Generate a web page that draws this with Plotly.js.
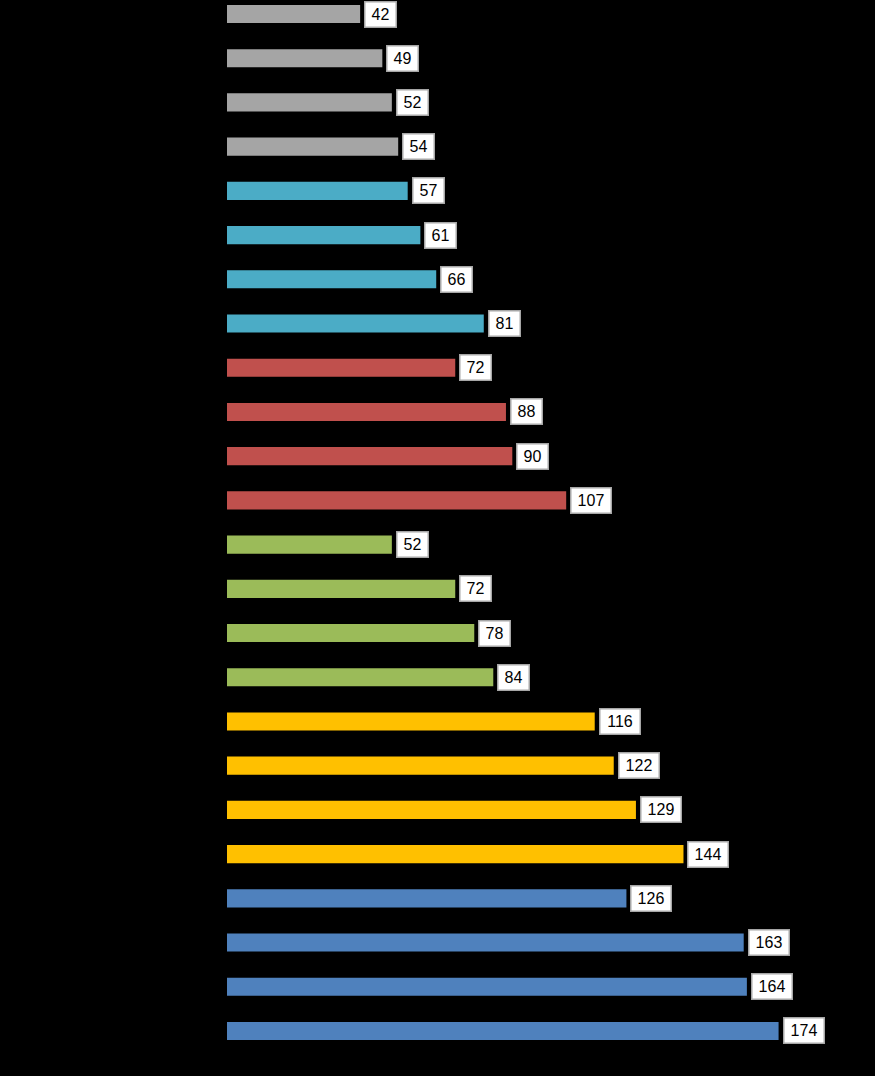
<!DOCTYPE html>
<html>
<head>
<meta charset="utf-8">
<script src="https://cdn.plot.ly/plotly-3.0.1.min.js"></script>
<style>
  html, body { margin: 0; padding: 0; background: #000; }
  #chart { width: 875px; height: 1076px; }
</style>
</head>
<body>
<div id="chart"></div>
<script>
// values, top to bottom
const VALUES = [42, 49, 52, 54, 57, 61, 66, 81, 72, 88, 90, 107,
                52, 72, 78, 84, 116, 122, 129, 144, 126, 163, 164, 174];
// colour group of each bar (4 bars per group)
const GROUPS = [0, 0, 0, 0, 1, 1, 1, 1, 2, 2, 2, 2,
                3, 3, 3, 3, 4, 4, 4, 4, 5, 5, 5, 5];
const GROUP_COLORS = ['#a5a5a5', '#4bacc6', '#c0504d', '#9bbb59', '#ffc000', '#4f81bd'];

const ROWS = VALUES.map((v, i) => i);

const trace = {
  type: 'bar',
  orientation: 'h',
  x: VALUES,
  y: ROWS,
  width: 0.41,
  marker: { color: GROUPS.map(g => GROUP_COLORS[g]), line: { width: 0 } },
  hoverinfo: 'x',
};

const annotations = VALUES.map((v, i) => ({
  x: v,
  y: i,
  xref: 'x',
  yref: 'y',
  text: String(v),
  showarrow: false,
  xanchor: 'left',
  yanchor: 'middle',
  xshift: 4,
  font: { family: 'Liberation Sans, Arial, sans-serif', size: 16, color: '#000' },
  bgcolor: '#ffffff',
  bordercolor: '#a6a6a6',
  borderwidth: 1.5,
  borderpad: 3.5,
  width: String(v).length * 9 + 5,
  align: 'center',
}));

Plotly.newPlot('chart', [trace], {
  width: 875,
  height: 1076,
  paper_bgcolor: '#000',
  plot_bgcolor: '#000',
  margin: { t: 0, b: 0, l: 227, r: 0 },
  showlegend: false,
  xaxis: {
    range: [0, 648 / 3.17],
    visible: false,
    showgrid: false,
    zeroline: false,
  },
  yaxis: {
    range: [24.018, -0.3166],
    visible: false,
    showgrid: false,
    zeroline: false,
  },
  annotations: annotations,
}, { displayModeBar: false, staticPlot: true });
</script>
</body>
</html>
